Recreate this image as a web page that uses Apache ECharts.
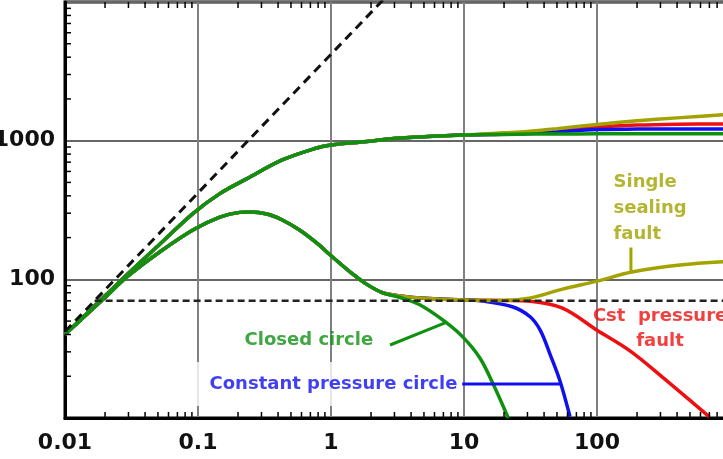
<!DOCTYPE html>
<html><head><meta charset="utf-8">
<script src="https://cdn.jsdelivr.net/npm/echarts@6/dist/echarts.min.js"></script>
<style>html,body{margin:0;padding:0;background:#fff}#c{width:723px;height:459px}</style>
</head><body><div id="c"></div>
<script>
// ---- tick labels ----
const xTickLabels = ['0.01', '0.1', '1', '10', '100'];
const yTickLabels = ['100', '1000'];
const xMinorTicks = [0.02,0.03,0.04,0.05,0.06,0.07,0.08,0.09,
  0.2,0.3,0.4,0.5,0.6,0.7,0.8,0.9, 2,3,4,5,6,7,8,9,
  20,30,40,50,60,70,80,90, 200,300,400,500,600,700,800,900];
const yMinorTicks = [20,30,40,50,60,70,80,90, 200,300,400,500,600,700,800,900,
  2000,3000,4000,5000,6000,7000,8000,9000];

// ---- pressure curves (upper) ----
const tPressCommon = [0.01, 0.02, 0.0292, 0.0518, 0.0915, 0.146, 0.232, 0.43, 0.78, 1, 1.86, 3.3, 10];
const pPressCommon = [40, 76, 108, 180, 298, 415, 530, 726, 886, 931, 985, 1045, 1100];
const tPressTail = [20, 30, 50, 100, 200, 400, 1000];
const pClosedCircle = [1110, 1115, 1118, 1120, 1120, 1120, 1120];
const pConstCircle  = [1112, 1125, 1160, 1205, 1212, 1214, 1214];
const pCstFault     = [1112, 1125, 1170, 1250, 1295, 1315, 1322];
const pSealingFault = [1140, 1165, 1220, 1310, 1390, 1460, 1550];

// ---- derivative curves (lower) ----
const tDerivCommon = [0.01, 0.02, 0.0292, 0.0518, 0.0915, 0.146, 0.206, 0.246, 0.33, 0.43, 0.58, 0.78, 1, 1.41, 1.86, 2.45];
const dDerivCommon = [40, 74, 104, 158, 227, 281, 304, 306, 296, 268, 227, 183, 148, 112, 92, 80];
const tDClosed = [3.3, 4.65, 7.2, 9.9, 13.2, 16.5, 21.5];
const dClosed  = [74, 65.5, 49.5, 38, 27, 17.7, 10];
const tDCircle = [3.3, 5, 10, 13.2, 23.1, 31.4, 37.4, 44, 52.4, 62.7];
const dCircle  = [76, 73, 71, 70, 63.4, 53.7, 43, 29.4, 18.8, 10.2];
const tDFault  = [3.3, 5, 10, 20, 31.6, 55, 100, 177, 315, 700];
const dFault   = [76, 73, 71, 70.5, 69.5, 62, 43, 30.5, 19.5, 10.2];
const tDSeal   = [3.3, 5, 10, 20, 31.6, 55, 100, 183, 420, 1000];
const dSeal    = [76, 73, 71, 70.5, 73.5, 85, 97, 113, 127, 135];

// ---- reference lines ----
const unitSlopeLine = [[0.01, 42], [3, 12600]];
const iarfLine = [[0.0167, 70], [1000, 70]];

// ---- annotations (data coordinates) ----
const sealingLeader = [[180, 170], [180, 114]];
const closedLeader  = [[2.78, 33.6], [7.2, 48.5]];
const circleLeader  = [[9.7, 17.6], [53, 17.6]];
const closedLabelAt  = [0.222, 36.5];
const circleLabelAt  = [0.0871, 17.6];
const sealingLabelAt = [132, 327];
const faultLabelAt   = [298, 44.2];

const C_GREEN = '#0f910f', C_BLUE = '#1010ee', C_RED = '#ee1010', C_OLIVE = '#a3a300';

function zip(t, v) { return t.map((x, i) => [x, v[i]]); }
function fmt(v) { return String(Number(v.toPrecision(6))); }

function curve(name, color, t, v, z) {
  return { name, type: 'line', data: zip(t, v), smooth: 0.35, symbol: 'none', z: z || 2,
    lineStyle: { color, width: 3.5 }, silent: true };
}
function leader(color, pts) {
  return { type: 'line', data: pts, symbol: 'none', z: 3, silent: true,
    lineStyle: { color, width: 3 } };
}

const textBase = { fontFamily: 'DejaVu Sans', fontWeight: 'bold', fontSize: 18 };

const chart = echarts.init(document.getElementById('c'), null, { renderer: 'canvas' });
chart.setOption({
  animation: false,
  grid: { left: 65, top: 2, right: -7, bottom: 41, containLabel: false, outerBoundsMode: 'none',
    show: true, borderColor: '#000', borderWidth: 3, backgroundColor: 'transparent' },
  xAxis: {
    type: 'log', logBase: 10, min: 0.01, max: 1000,
    axisLine: { show: true, lineStyle: { color: '#000', width: 3 } },
    axisTick: { show: false },
    splitLine: { show: true, lineStyle: { color: '#808080', width: 2 } },
    axisLabel: { fontFamily: 'DejaVu Sans', fontWeight: 'bold', fontSize: 22, color: '#111', margin: 14,
      formatter: v => { const s = fmt(v); return xTickLabels.includes(s) ? s : ''; } }
  },
  yAxis: {
    type: 'log', logBase: 10, min: 10, max: 10000,
    axisLine: { show: true, lineStyle: { color: '#000', width: 3 } },
    axisTick: { show: false },
    splitLine: { show: true, lineStyle: { color: '#666', width: 2 } },
    axisLabel: { fontFamily: 'DejaVu Sans', fontWeight: 'bold', fontSize: 22, color: '#111', margin: 10,
      formatter: v => { const s = fmt(v); return yTickLabels.includes(s) ? s : ''; } }
  },
  series: [
    // minor ticks
    { type: 'custom', coordinateSystem: 'cartesian2d', silent: true, z: 5, clip: false,
      data: xMinorTicks.map(v => [v, 10]),
      renderItem: (params, api) => {
        const p = api.coord([api.value(0), api.value(1)]);
        const cs = params.coordSys;
        return { type: 'group', children: [
          { type: 'line', shape: { x1: p[0], y1: cs.y + cs.height, x2: p[0], y2: cs.y + cs.height - 6 }, style: { stroke: '#000', lineWidth: 1.5 } },
          { type: 'line', shape: { x1: p[0], y1: cs.y, x2: p[0], y2: cs.y + 6 }, style: { stroke: '#000', lineWidth: 1.5 } }
        ] };
      } },
    { type: 'custom', coordinateSystem: 'cartesian2d', silent: true, z: 5, clip: false,
      data: yMinorTicks.map(v => [0.01, v]),
      renderItem: (params, api) => {
        const p = api.coord([api.value(0), api.value(1)]);
        const cs = params.coordSys;
        return { type: 'line', shape: { x1: cs.x, y1: p[1], x2: cs.x + 6, y2: p[1] }, style: { stroke: '#000', lineWidth: 1.5 } };
      } },
    // pressure curves
    curve('Cst pressure fault P', C_RED, tPressCommon.concat(tPressTail), pPressCommon.concat(pCstFault)),
    curve('Constant pressure circle P', C_BLUE, tPressCommon.concat(tPressTail), pPressCommon.concat(pConstCircle)),
    curve('Single sealing fault P', C_OLIVE, tPressCommon.concat(tPressTail), pPressCommon.concat(pSealingFault)),
    curve('Closed circle P', C_GREEN, tPressCommon.concat(tPressTail), pPressCommon.concat(pClosedCircle)),
    // derivative curves
    curve('Cst pressure fault D', C_RED, tDerivCommon.concat(tDFault), dDerivCommon.concat(dFault)),
    curve('Constant pressure circle D', C_BLUE, tDerivCommon.concat(tDCircle), dDerivCommon.concat(dCircle)),
    curve('Single sealing fault D', C_OLIVE, tDerivCommon.concat(tDSeal), dDerivCommon.concat(dSeal)),
    curve('Closed circle D', C_GREEN, tDerivCommon.concat(tDClosed), dDerivCommon.concat(dClosed)),
    // dashed reference lines
    { type: 'line', data: unitSlopeLine, symbol: 'none', z: 4, silent: true,
      lineStyle: { color: '#111', width: 3, type: [9, 6] } },
    { type: 'line', data: iarfLine, symbol: 'none', z: 4, silent: true,
      lineStyle: { color: '#222', width: 2.5, type: [7, 4] } },
    // leaders
    leader(C_OLIVE, sealingLeader),
    leader(C_GREEN, closedLeader),
    leader(C_BLUE, circleLeader),
    // text annotations
    { type: 'scatter', symbolSize: 1, itemStyle: { color: 'rgba(0,0,0,0)' }, z: 6, silent: true,
      data: [
        { value: closedLabelAt, label: Object.assign({ show: true, position: 'right', distance: 0,
            formatter: 'Closed circle', color: C_GREEN }, textBase) },
        { value: circleLabelAt, label: Object.assign({ show: true, position: 'right', distance: 0,
            formatter: 'Constant pressure circle', color: C_BLUE, backgroundColor: '#fff',
            lineHeight: 18, padding: [13, 4, 13, 19] }, textBase) },
        { value: sealingLabelAt, label: Object.assign({ show: true, position: 'right', distance: 0,
            formatter: 'Single\nsealing\nfault', color: C_OLIVE, lineHeight: 26, align: 'left' }, textBase) },
        { value: faultLabelAt, label: Object.assign({ show: true, position: 'inside',
            formatter: 'Cst  pressure\nfault', color: C_RED, lineHeight: 25, align: 'center', verticalAlign: 'middle' }, textBase) }
      ] }
  ]
});
</script></body></html>
